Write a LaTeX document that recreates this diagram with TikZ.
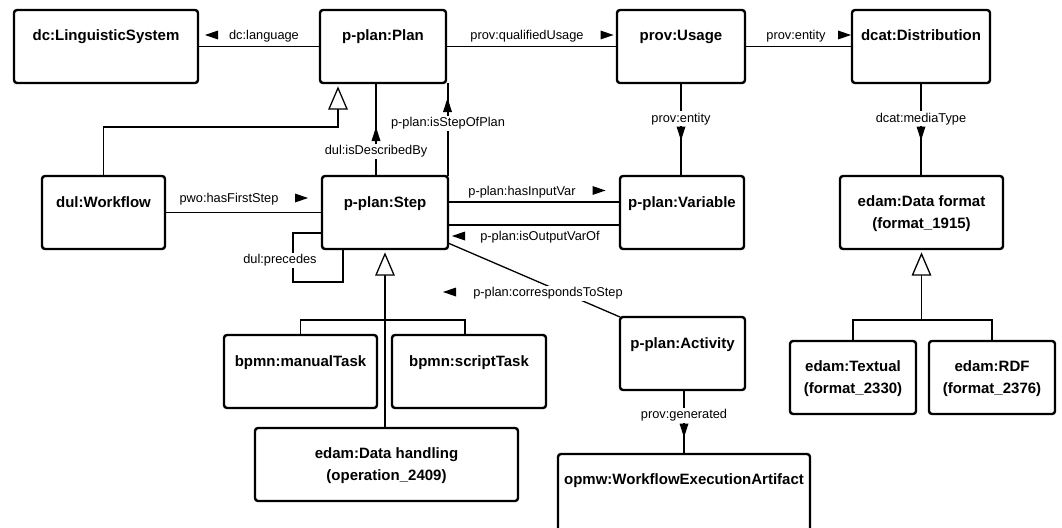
\documentclass[tikz,border=0pt]{standalone}
\usepackage{fontspec}
\setmainfont{Liberation Sans}
\newfontfamily\ttlfont{Liberation Sans}
\newcommand\triR[2]{\fill ({#1-6.5},{#2-4.5}) -- ({#1+6.5},{#2}) -- ({#1-6.5},{#2+4.5}) -- cycle;}
\newcommand\triL[2]{\fill ({#1+6.5},{#2-4.5}) -- ({#1-6.5},{#2}) -- ({#1+6.5},{#2+4.5}) -- cycle;}
\newcommand\triD[2]{\fill ({#1-4.5},{#2-7}) -- ({#1+4.5},{#2-7}) -- ({#1},{#2+7}) -- cycle;}
\newcommand\triU[2]{\fill ({#1-4.5},{#2+7}) -- ({#1+4.5},{#2+7}) -- ({#1},{#2-7}) -- cycle;}
\newcommand\hollowU[1]{\filldraw[conn,fill=white] ($(#1)+(-9,0)$) -- ($(#1)+(9,0)$) -- ($(#1)+(0,-21)$) -- cycle;}
\usetikzlibrary{calc}
\begin{document}
\begin{tikzpicture}[x=1pt,y=-1pt,
  box/.style={draw, line width=2.4pt, rounded corners=3pt, inner sep=0pt, outer sep=0pt, fill=white},
  ttl/.style={font=\ttlfont\bfseries\fontsize{15}{18}\selectfont, inner sep=0pt, anchor=base},
  lbl/.style={font=\fontsize{12.8}{15}\selectfont, inner sep=1.5pt, anchor=base, fill=white},
  conn/.style={line width=1.3pt}]
\clip (0,0) rectangle (1062,527);
\useasboundingbox (0,0) rectangle (1062,527);

% boxes
\node[box, minimum width=184pt, minimum height=73pt] (ling) at (106,46.5) {};
\node[box, minimum width=126pt, minimum height=73pt] (plan) at (383,46.5) {};
\node[box, minimum width=128pt, minimum height=73pt] (usage) at (681,46.5) {};
\node[box, minimum width=138pt, minimum height=73pt] (distr) at (921,46.5) {};
\node[box, minimum width=123pt, minimum height=73pt] (wf) at (103.5,212.5) {};
\node[box, minimum width=126pt, minimum height=73pt] (step) at (385,212.5) {};
\node[box, minimum width=124pt, minimum height=73pt] (var) at (682,212.5) {};
\node[box, minimum width=163pt, minimum height=73pt] (dformat) at (921.5,212.5) {};
\node[box, minimum width=153pt, minimum height=73pt] (manual) at (300.5,371.5) {};
\node[box, minimum width=154pt, minimum height=73pt] (script) at (469,371.5) {};
\node[box, minimum width=125pt, minimum height=73pt] (activity) at (682.5,353.5) {};
\node[box, minimum width=126pt, minimum height=73pt] (textual) at (853,377.5) {};
\node[box, minimum width=126pt, minimum height=73pt] (rdf) at (992,377.5) {};
\node[box, minimum width=263pt, minimum height=73pt] (dhand) at (386.5,464.5) {};
\node[box, minimum width=252pt, minimum height=100pt] (opmw) at (684,504) {};

% titles
\node[ttl] at ([yshift=-31pt]ling.north) {dc:LinguisticSystem};
\node[ttl] at ([yshift=-31pt]plan.north) {p-plan:Plan};
\node[ttl] at ([yshift=-31pt]usage.north) {prov:Usage};
\node[ttl] at ([yshift=-31pt]distr.north) {dcat:Distribution};
\node[ttl] at ([yshift=-31pt]wf.north) {dul:Workflow};
\node[ttl] at ([yshift=-31pt]step.north) {p-plan:Step};
\node[ttl] at ([yshift=-31pt]var.north) {p-plan:Variable};
\node[ttl] at ([yshift=-30pt]dformat.north) {edam:Data format};
\node[ttl] at ([yshift=-52.5pt]dformat.north) {(format\_1915)};
\node[ttl] at ([yshift=-31pt]manual.north) {bpmn:manualTask};
\node[ttl] at ([yshift=-31pt]script.north) {bpmn:scriptTask};
\node[ttl] at ([yshift=-31pt]activity.north) {p-plan:Activity};
\node[ttl] at ([yshift=-30pt]textual.north) {edam:Textual};
\node[ttl] at ([yshift=-52.5pt]textual.north) {(format\_2330)};
\node[ttl] at ([yshift=-30pt]rdf.north) {edam:RDF};
\node[ttl] at ([yshift=-52.5pt]rdf.north) {(format\_2376)};
\node[ttl] at ([yshift=-30pt]dhand.north) {edam:Data handling};
\node[ttl] at ([yshift=-52pt]dhand.north) {(operation\_2409)};
\node[ttl] at ([yshift=-30.5pt]opmw.north) {opmw:WorkflowExecutionArtifact};

% horizontal connectors, top row
\draw[conn] (plan.west) -- (ling.east);
\node[lbl] at (264,39.5) {dc:language};
\triL{211.5}{35}
\draw[conn] (plan.east) -- (usage.west);
\node[lbl] at (527,39.5) {prov:qualifiedUsage};
\triR{607}{35}
\draw[conn] (usage.east) -- (distr.west);
\node[lbl] at (796,39.5) {prov:entity};
\triR{844.5}{35}

% vertical connectors
\draw[conn] (usage.south) -- (usage.south |- var.north);
\node[lbl] at (681,122) {prov:entity};
\triD{681}{133.5}
\draw[conn] (distr.south) -- (distr.south |- dformat.north);
\node[lbl] at (921,122) {dcat:mediaType};
\triD{921}{133.5}
\draw[conn] (step.north -| 376,0) -- (plan.south -| 376,0);
\node[lbl] at (376,154.5) {dul:isDescribedBy};
\triU{376}{134}
\draw[conn] (step.north east) -- (step.north east |- plan.south);
\node[lbl] at (448,126.5) {p-plan:isStepOfPlan};
\triU{447.5}{105}
\draw[conn] (opmw.north) -- (opmw.north |- activity.south);
\node[lbl] at (684,418.5) {prov:generated};
\triD{684}{430.5}

% generalization to Plan
\coordinate (gp) at (338,109);
\draw[conn] (wf.north) |- (338,127) -- (gp);
\hollowU{gp}

% Workflow -> Step
\draw[conn] (wf.east) -- (step.west);
\node[lbl, fill=none] at (229,202.5) {pwo:hasFirstStep};
\triR{301.5}{198}

% Step <-> Variable
\draw[conn] (step.east |- 0,202) -- (var.west |- 0,202);
\node[lbl, fill=none] at (522,195) {p-plan:hasInputVar};
\triR{599}{190.5}
\draw[conn] (var.west |- 0,225) -- (step.east |- 0,225);
\node[lbl, fill=none] at (540,240.5) {p-plan:isOutputVarOf};
\triL{458.5}{236}

% Activity -> Step
\draw[conn] (step.east |- 0,243) -- (activity.north west);
\node[lbl] at (548,296.5) {p-plan:correspondsToStep};
\triL{449.5}{292}

% self loop
\draw[conn] (step.west |- 0,233) -| (293,282) -| (step.south -| 343,0);
\node[lbl] at (280,263.5) {dul:precedes};

% generalization to Step
\coordinate (gs) at ([yshift=-26pt]step.south);
\draw[conn] (gs) -- (gs |- dhand.north);
\draw[conn] (manual.north) -- ++(0,-15) -| ([xshift=-4pt]script.north);
\hollowU{gs}

% generalization to Data format
\coordinate (gd) at ([yshift=-26pt]dformat.south);
\draw[conn] (gd) -- (gd |- 0,320);
\draw[conn] (textual.north) -- ++(0,-21) -| (rdf.north);
\hollowU{gd}
\end{tikzpicture}
\end{document}
